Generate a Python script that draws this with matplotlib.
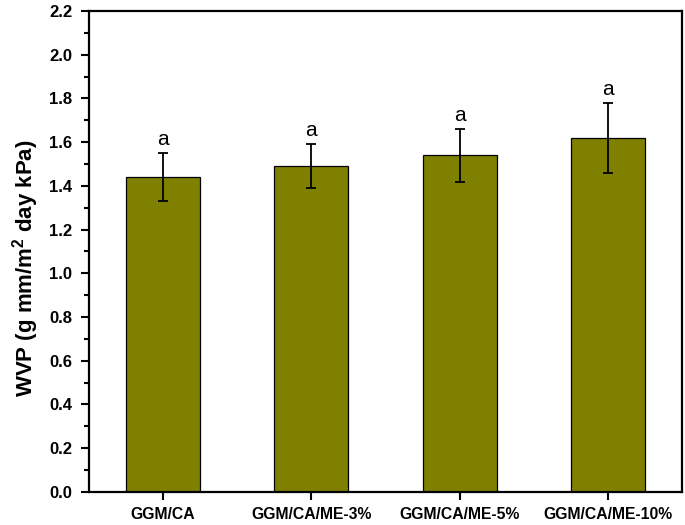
import numpy as np
import matplotlib.pyplot as plt
from matplotlib.ticker import MultipleLocator

plt.rcParams['font.family'] = ['Liberation Sans', 'DejaVu Sans']
plt.rcParams['mathtext.fontset'] = 'custom'
plt.rcParams['mathtext.bf'] = 'Liberation Sans:bold'
plt.rcParams['mathtext.rm'] = 'Liberation Sans'

# WVP values
samples = ['GGM/CA', 'GGM/CA/ME-3%', 'GGM/CA/ME-5%', 'GGM/CA/ME-10%']
wvp = [1.44, 1.49, 1.54, 1.62]
wvp_err = [0.11, 0.10, 0.12, 0.16]
letters = ['a', 'a', 'a', 'a']

fig = plt.figure(figsize=(6.85, 5.25), dpi=100)
ax = fig.add_axes([0.130, 0.063, 0.8657, 0.916])

x = np.arange(len(samples))
ax.bar(x, wvp, width=0.5, color='#808000', edgecolor='black', linewidth=0.9,
       yerr=wvp_err, capsize=3.8,
       error_kw=dict(ecolor='black', elinewidth=1.3, capthick=1.3))

for xi, v, e, lab in zip(x, wvp, wvp_err, letters):
    ax.annotate(lab, (xi, v + e), xytext=(0, 3), textcoords='offset points',
                ha='center', va='bottom', fontsize=15)

ax.set_xlim(-0.5, 3.5)
ax.set_ylim(0, 2.2)
ax.set_xticks(x)
ax.set_xticklabels(samples, fontsize=11.3, fontweight='bold')
ax.yaxis.set_major_locator(MultipleLocator(0.2))
ax.yaxis.set_minor_locator(MultipleLocator(0.1))
ax.set_yticklabels([f'{t:.1f}' for t in ax.get_yticks()], fontsize=12, fontweight='bold')
ax.tick_params(axis='both', which='major', direction='out', length=6, width=1.5)
ax.tick_params(axis='y', which='major', pad=6)
ax.tick_params(axis='x', which='major', pad=5)
ax.tick_params(axis='y', which='minor', direction='out', length=3.5, width=1.5)
ax.tick_params(axis='x', which='minor', bottom=False)
for s in ax.spines.values():
    s.set_linewidth(1.6)

fig.text(26 / 685, 1 - 268 / 525, r'WVP (g mm/m$^{\mathbf{2}}$ day kPa)',
         rotation=90, ha='center', va='center', fontsize=16, fontweight='bold')

fig.savefig('out.png', dpi=100)
